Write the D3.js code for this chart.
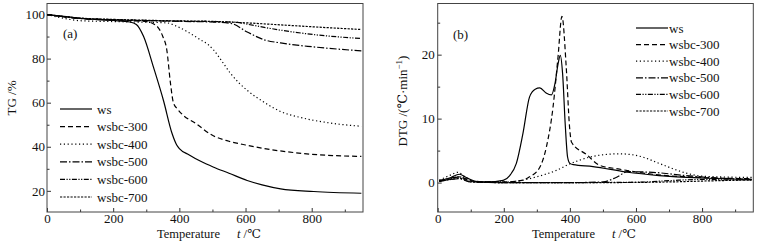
<!DOCTYPE html>
<html lang="en">
<head>
<meta charset="UTF-8">
<title>TG / DTG</title>
<script src="https://cdn.jsdelivr.net/npm/d3@7"></script>
<style>
   body { margin: 0; background: #fff; }
   svg text { font-family: "Liberation Serif", "DejaVu Serif", serif; font-size: 13px; fill: #111; }
   .tick line, .domain { stroke: #333; }
</style>
</head>
<body>
<svg id="chart" width="758" height="245"></svg>
<script>
// ---- data ----
const seriesNames = ['ws', 'wsbc-300', 'wsbc-400', 'wsbc-500', 'wsbc-600', 'wsbc-700']

// TG (%), [temperature, value]
const tgWs = [[0,100],[50,99.2],[100,98.3],[200,97.3],[250,96.6],[270,95.5],[292,90],[322,76],[352,61],[378,46],[392,40.8],[400,39.2],[430,36.3],[463,33.5],[504,30.7],[550,28],[605,24.7],[650,22.7],[706,20.9],[806,19.7],[950,18.9]]
const tg300 = [[0,100],[50,99],[100,98.2],[200,97.5],[300,96.8],[330,95],[350,90],[362,84],[373,69],[382,60],[395,57],[410,54.5],[450,50.5],[500,45.2],[550,42.5],[600,40.8],[700,38.2],[800,36.6],[950,35.6]]
const tg400 = [[0,100],[50,98.3],[100,97.2],[200,96.8],[300,96.5],[362,96.2],[390,94.8],[423,92.3],[463,88.6],[485,86.6],[504,83.8],[530,78.5],[555,73.2],[580,69],[605,65.6],[655,60.3],[706,56],[760,53.5],[806,52],[880,50.3],[950,49.3]]
const tg500 = [[0,100],[50,99],[100,98.2],[200,97.6],[300,97.2],[400,96.9],[500,96.6],[555,96],[605,92.1],[655,88.6],[706,87.1],[806,85.3],[950,83.5]]
const tg600 = [[0,100],[50,99],[100,98.3],[200,97.7],[300,97.3],[400,97],[500,96.8],[570,96.5],[605,95.6],[706,92.9],[806,90.9],[950,89.1]]
const tg700 = [[0,100],[50,99.1],[100,98.4],[200,97.8],[300,97.4],[400,97.1],[500,96.9],[605,96.2],[706,95.3],[806,94.4],[950,93.2]]

// DTG (℃/min), [temperature, value]
const dtgWs = [[5,0.3],[40,0.8],[65,1.3],[90,0.7],[120,0.15],[150,0.1],[198,0.35],[218,1.1],[238,3],[258,7.7],[278,13.4],[295,14.6],[309,14.8],[328,14],[344,13.7],[355,15.5],[364,18.5],[371,19.9],[378,17],[386,9],[393,4],[400,3],[410,2.8],[470,2.5],[570,1.65],[670,1.1],[800,0.72],[950,0.5]]
const dtg300 = [[5,0.2],[40,0.6],[65,0.9],[90,0.5],[120,0.1],[200,0.1],[250,0.3],[278,0.9],[309,2.4],[329,5.6],[349,11.8],[364,19.6],[376,26],[389,18],[399,8.7],[405,6.3],[450,4.4],[490,2.7],[550,2.1],[650,1.3],[800,0.8],[950,0.6]]
const dtg400 = [[5,0.4],[40,1.2],[60,1.6],[85,0.8],[110,0.2],[200,0.1],[250,0.3],[299,0.9],[359,1.9],[399,2.9],[429,3.5],[470,4.1],[550,4.5],[620,4.0],[670,3.0],[751,1.5],[800,1.0],[950,0.8]]
const dtg500 = [[5,0.2],[40,0.5],[65,0.6],[100,0.1],[200,0],[400,0],[500,0.1],[540,0.8],[575,1.7],[650,1.6],[750,1.1],[850,0.7],[950,0.5]]
const dtg600 = [[5,0.3],[40,0.7],[65,0.9],[100,0.2],[200,0],[400,0],[600,0.05],[700,0.3],[800,0.5],[900,0.4],[950,0.4]]
const dtg700 = [[5,0.2],[40,0.5],[65,0.7],[100,0.1],[200,0],[500,0],[700,0.1],[850,0.3],[950,0.4]]

const tgData = [tgWs, tg300, tg400, tg500, tg600, tg700]
const dtgData = [dtgWs, dtg300, dtg400, dtg500, dtg600, dtg700]

const xTicks = [0, 200, 400, 600, 800]
const tgTicks = [20, 40, 60, 80, 100]
const dtgTicks = [0, 10, 20]

// ---- styles ----
const dashes = ['none', '5,3', '1.2,2.6', '7,2,1.5,2', '5,1.5,1.2,1.5,1.2,1.5', '2.2,1.3']

const svg = d3.select('#chart')

function panel(opts) {
   const x = d3.scaleLinear().domain([0, 955]).range([opts.left, opts.right])
   const y = d3.scaleLinear().domain(opts.yDomain).range([opts.bottom, opts.top])
   const g = svg.append('g')

   // minor ticks
   g.append('g')
      .attr('transform', `translate(0,${opts.bottom})`)
      .call(d3.axisBottom(x).tickValues(d3.range(100, 955, 200)).tickSize(-2.5).tickFormat(''))
   g.append('g')
      .attr('transform', `translate(${opts.left},0)`)
      .call(d3.axisLeft(y).tickValues(opts.yMinor).tickSize(-2.5).tickFormat(''))

   // major ticks
   g.append('g')
      .attr('transform', `translate(0,${opts.bottom})`)
      .call(d3.axisBottom(x).tickValues(xTicks).tickSize(-4).tickPadding(2))
   g.append('g')
      .attr('transform', `translate(${opts.left},0)`)
      .call(d3.axisLeft(y).tickValues(opts.yTicks).tickSize(-4).tickPadding(opts.yPad))

   g.selectAll('.domain').remove()
   g.selectAll('.tick text').style('font-size', '13px').attr('fill', '#111')

   g.append('rect')
      .attr('x', opts.left).attr('y', opts.top)
      .attr('width', opts.right - opts.left).attr('height', opts.bottom - opts.top)
      .attr('fill', 'none').attr('stroke', '#444').attr('stroke-width', 1)

   const clipId = 'clip' + opts.id
   svg.append('clipPath').attr('id', clipId).append('rect')
      .attr('x', opts.left).attr('y', opts.top)
      .attr('width', opts.right - opts.left).attr('height', opts.bottom - opts.top)

   const line = d3.line().x(d => x(d[0])).y(d => y(d[1])).curve(d3.curveMonotoneX)
   g.append('g').attr('clip-path', `url(#${clipId})`)
      .selectAll('path')
      .data(opts.data)
      .join('path')
         .attr('d', line)
         .attr('fill', 'none')
         .attr('stroke', '#000')
         .attr('stroke-width', 1.2)
         .attr('stroke-dasharray', (_, i) => dashes[i])

   // legend
   const lg = g.append('g')
   seriesNames.forEach((name, i) => {
      const yy = opts.legY + i * opts.legStep
      lg.append('line')
         .attr('x1', opts.legX).attr('x2', opts.legX + 32)
         .attr('y1', yy).attr('y2', yy)
         .attr('stroke', '#000').attr('stroke-width', 1.2)
         .attr('stroke-dasharray', dashes[i])
      lg.append('text')
         .attr('x', opts.legX + opts.legGap).attr('y', yy).attr('dy', '0.35em')
         .text(name)
   })

   g.append('text').attr('x', opts.tagX).attr('y', opts.tagY).text(opts.tag)

   // x label
   const xl = g.append('text').attr('y', 238).style('font-size', '12.5px')
   xl.append('tspan').attr('x', opts.xlX).text('Temperature')
   xl.append('tspan').attr('x', opts.xlX + 80).style('font-style', 'italic').text('t')
   xl.append('tspan').text(' /℃')

   return g
}

panel({
   id: 'a', left: 47, right: 363, top: 3.5, bottom: 212,
   yDomain: [10.4, 105], yTicks: tgTicks, yMinor: [30, 50, 70, 90], yPad: 2,
   data: tgData,
   legX: 60, legY: 109, legStep: 17.6, legGap: 37,
   tag: '(a)', tagX: 63, tagY: 38,
   xlX: 157
})

panel({
   id: 'b', left: 437.7, right: 753.3, top: 3.5, bottom: 212,
   yDomain: [-4.6, 28], yTicks: dtgTicks, yMinor: [5, 15, 25], yPad: 3,
   data: dtgData,
   legX: 636, legY: 28, legStep: 16.6, legGap: 33,
   tag: '(b)', tagX: 453, tagY: 39,
   xlX: 532
})

// y labels
svg.append('text')
   .attr('transform', 'translate(16,98) rotate(-90)')
   .attr('text-anchor', 'middle')
   .text('TG /%')

const dl = svg.append('text')
   .attr('transform', 'translate(407,101) rotate(-90)')
   .attr('text-anchor', 'middle')
dl.append('tspan').text('DTG /(℃·min')
dl.append('tspan').attr('dy', -5).style('font-size', '9px').text('−1')
dl.append('tspan').attr('dy', 5).text(')')
</script>
</body>
</html>
